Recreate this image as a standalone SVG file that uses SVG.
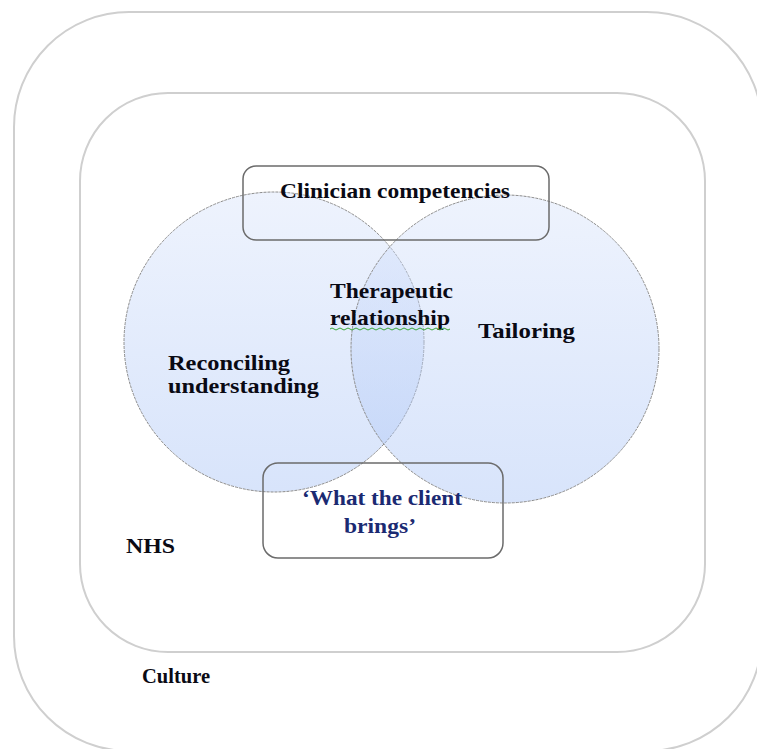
<svg xmlns="http://www.w3.org/2000/svg" width="757" height="749" viewBox="0 0 757 749">
<style>
.frame{fill:none;stroke:#cfcfcf;stroke-width:2}
.circ{fill:url(#cg);stroke:#8c8c8c;stroke-width:1;stroke-dasharray:3 1}
.box{fill:none;stroke:#6b6b6b;stroke-width:1.5}
.t{font-family:"Liberation Serif","Times New Roman",serif;font-weight:bold;font-size:22px;fill:#0a0a14}
.navy{fill:#1b2a72}
</style>
<defs>
<linearGradient id="cg" x1="0" y1="0" x2="0" y2="1">
<stop offset="0" stop-color="#d9e4fb" stop-opacity="0.45"/>
<stop offset="1" stop-color="#a8c3f6" stop-opacity="0.45"/>
</linearGradient>
</defs>
<rect width="757" height="749" fill="#fff"/>
<g id="culture">
<rect class="frame" x="14" y="12" width="748" height="739" rx="115"/>
<text class="t" x="142" y="683" textLength="68" lengthAdjust="spacingAndGlyphs">Culture</text>
</g>
<g id="nhs">
<rect class="frame" x="80" y="93" width="625" height="559" rx="88"/>
<text class="t" x="126" y="553" textLength="49" lengthAdjust="spacingAndGlyphs">NHS</text>
</g>
<g id="reconciling">
<circle class="circ" cx="274" cy="342" r="150"/>
<text class="t" x="168" y="370" textLength="122" lengthAdjust="spacingAndGlyphs">Reconciling</text>
<text class="t" x="168" y="393" textLength="151" lengthAdjust="spacingAndGlyphs">understanding</text>
</g>
<g id="tailoring">
<circle class="circ" cx="505" cy="349" r="154"/>
<text class="t" x="478" y="338" textLength="97" lengthAdjust="spacingAndGlyphs">Tailoring</text>
</g>
<g id="therapeutic">
<text class="t" x="330" y="298" textLength="123" lengthAdjust="spacingAndGlyphs">Therapeutic</text>
<text class="t" x="330" y="325" textLength="120" lengthAdjust="spacingAndGlyphs">relationship</text>
<path d="M330 329 q2 -2 4 0 t4 0 t4 0 t4 0 t4 0 t4 0 t4 0 t4 0 t4 0 t4 0 t4 0 t4 0 t4 0 t4 0 t4 0 t4 0 t4 0 t4 0 t4 0 t4 0 t4 0 t4 0 t4 0 t4 0 t4 0 t4 0 t4 0 t4 0 t4 0 t4 0" fill="none" stroke="#3aa83a" stroke-width="1"/>
</g>
<g id="clinician">
<rect class="box" x="243" y="166" width="306" height="74" rx="13"/>
<text class="t" x="280" y="198" textLength="230" lengthAdjust="spacingAndGlyphs">Clinician competencies</text>
</g>
<g id="client">
<rect class="box" x="263" y="463" width="240" height="95" rx="15"/>
<text class="t navy" x="302" y="505" textLength="160" lengthAdjust="spacingAndGlyphs">‘What the client</text>
<text class="t navy" x="344" y="533" textLength="72" lengthAdjust="spacingAndGlyphs">brings’</text>
</g>
<g id="connectors"></g>
</svg>
